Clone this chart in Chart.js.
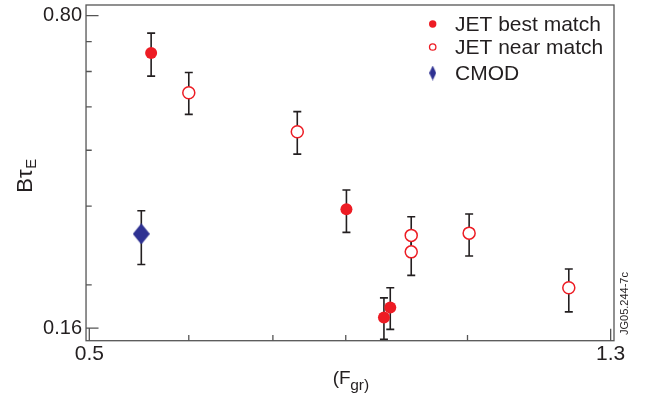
<!DOCTYPE html>
<html>
<head>
<meta charset="utf-8">
<script src="https://cdn.jsdelivr.net/npm/chart.js@4"></script>
<style>
html, body { margin: 0; padding: 0; background: #fff; }
#wrap { width: 649px; height: 403px; }
</style>
</head>
<body>
<div id="wrap"><canvas id="chart" width="649" height="403"></canvas></div>
<script>
// values (x = Fgr, y = B.tauE, both log axes)
var seriesNames = ['JET best match', 'JET near match', 'CMOD']

var bestX = [0.560, 0.801, 0.858, 0.868]
var bestY = [0.660, 0.295, 0.169, 0.178]
var bestLo = [0.586, 0.262, 0.151, 0.159]
var bestHi = [0.731, 0.326, 0.187, 0.197]

var nearX = [0.600, 0.732, 0.902, 0.902, 1.003, 1.204]
var nearY = [0.538, 0.440, 0.258, 0.237, 0.261, 0.197]
var nearLo = [0.481, 0.392, 0.236, 0.210, 0.232, 0.174]
var nearHi = [0.597, 0.488, 0.284, 0.259, 0.288, 0.217]

var cmodX = [0.550]
var cmodY = [0.260]
var cmodLo = [0.222]
var cmodHi = [0.293]

var xTicks = [0.5, 0.6, 0.7, 0.8, 1.0, 1.3]
var xLabels = [0.5, 1.3]
var yTicks = [0.16, 0.2, 0.3, 0.4, 0.5, 0.6, 0.7, 0.8]
var yLabels = [0.16, 0.8]

var RED = '#ed1c24'
var NAVY = '#2e3192'
var INK = '#231f20'
var FONT = '"Liberation Sans", Arial, Helvetica, sans-serif'

function toPoints(xs, ys, lo, hi) {
    var pts = []
    for (let i = 0; i < xs.length; i++) {
        pts.push({ x: xs[i], y: ys[i], lo: lo[i], hi: hi[i] })
    }
    return pts
}

function diamond(w, h, color) {
    var c = document.createElement('canvas')
    c.width = w
    c.height = h
    var g = c.getContext('2d')
    g.fillStyle = color
    g.beginPath()
    g.moveTo(w / 2, 0)
    g.lineTo(w, h / 2)
    g.lineTo(w / 2, h)
    g.lineTo(0, h / 2)
    g.closePath()
    g.fill()
    return c
}

// error bars, frame, inward ticks, titles, legend
var decorations = {
    id: 'decorations',
    beforeDatasetsDraw(chart) {
        var ctx = chart.ctx, xs = chart.scales.x, ys = chart.scales.y
        ctx.save()
        ctx.strokeStyle = INK
        ctx.lineWidth = 1.6
        for (const ds of chart.data.datasets) {
            for (const p of ds.data) {
                var px = xs.getPixelForValue(p.x)
                var top = ys.getPixelForValue(p.hi)
                var bot = ys.getPixelForValue(p.lo)
                ctx.beginPath()
                ctx.moveTo(px, top); ctx.lineTo(px, bot)
                ctx.moveTo(px - 4, top); ctx.lineTo(px + 4, top)
                ctx.moveTo(px - 4, bot); ctx.lineTo(px + 4, bot)
                ctx.stroke()
            }
        }
        ctx.restore()
    },
    afterDraw(chart) {
        var ctx = chart.ctx, a = chart.chartArea
        var xs = chart.scales.x, ys = chart.scales.y
        ctx.save()
        // frame
        ctx.strokeStyle = '#555'
        ctx.lineWidth = 1.3
        ctx.strokeRect(a.left, a.top, a.right - a.left, a.bottom - a.top)
        // ticks pointing inward
        ctx.beginPath()
        for (const v of yTicks) {
            var py = ys.getPixelForValue(v)
            var len = yLabels.includes(v) ? 12.5 : 5.7
            ctx.moveTo(a.left, py); ctx.lineTo(a.left + len, py)
        }
        for (const v of xTicks) {
            var px = xs.getPixelForValue(v)
            var len2 = xLabels.includes(v) ? 12 : 5.7
            ctx.moveTo(px, a.bottom); ctx.lineTo(px, a.bottom - len2)
        }
        ctx.stroke()

        ctx.fillStyle = INK
        ctx.textAlign = 'left'
        ctx.textBaseline = 'alphabetic'

        // y title: B tau_E
        ctx.save()
        ctx.translate(31.7, 192.7)
        ctx.rotate(-Math.PI / 2)
        ctx.font = '22px ' + FONT
        ctx.fillText('Bτ', 0, 0)
        var w = ctx.measureText('Bτ').width
        ctx.font = '15px ' + FONT
        ctx.fillText('E', w + 0.5, 4.5)
        ctx.restore()

        // x title: (F_gr)
        ctx.font = '19px ' + FONT
        ctx.fillText('(F', 332.7, 384.4)
        var w2 = ctx.measureText('(F').width
        ctx.font = '15.5px ' + FONT
        ctx.fillText('gr)', 332.7 + w2 - 0.5, 390)

        // legend inside plot, top right
        var rows = [24, 47, 73]
        var mx = a.right - 181.3, tx = a.right - 159
        ctx.font = '21px ' + FONT
        ctx.textBaseline = 'middle'
        for (let i = 0; i < seriesNames.length; i++) {
            var ry = rows[i]
            if (i === 0) {
                ctx.fillStyle = RED
                ctx.beginPath(); ctx.arc(mx, ry, 3.7, 0, Math.PI * 2); ctx.fill()
            } else if (i === 1) {
                ctx.strokeStyle = RED
                ctx.lineWidth = 1.3
                ctx.beginPath(); ctx.arc(mx, ry, 3.2, 0, Math.PI * 2); ctx.stroke()
            } else {
                ctx.drawImage(diamond(7, 15, NAVY), mx - 3.5, ry - 7.5)
            }
            ctx.fillStyle = INK
            ctx.fillText(seriesNames[i], tx, ry + 1)
        }

        // figure stamp
        ctx.save()
        ctx.translate(628, 335)
        ctx.rotate(-Math.PI / 2)
        ctx.font = '11px ' + FONT
        ctx.textBaseline = 'alphabetic'
        ctx.fillText('JG05.244-7c', 0, 0)
        ctx.restore()

        ctx.restore()
    }
}

function initChart() {
    var ctx = document.getElementById('chart').getContext('2d')
    new Chart(ctx, {
        type: 'scatter',
        data: {
            datasets: [
                {
                    label: seriesNames[0],
                    data: toPoints(bestX, bestY, bestLo, bestHi),
                    pointStyle: 'circle',
                    pointRadius: 6,
                    pointBackgroundColor: RED,
                    pointBorderWidth: 0
                },
                {
                    label: seriesNames[1],
                    data: toPoints(nearX, nearY, nearLo, nearHi),
                    pointStyle: 'circle',
                    pointRadius: 6,
                    pointBackgroundColor: '#fff',
                    pointBorderColor: RED,
                    pointBorderWidth: 1.5
                },
                {
                    label: seriesNames[2],
                    data: toPoints(cmodX, cmodY, cmodLo, cmodHi),
                    pointStyle: diamond(17, 21, NAVY),
                    pointRadius: 9
                }
            ]
        },
        options: {
            responsive: false,
            animation: false,
            layout: { autoPadding: false, padding: { left: 39.1, top: 5, right: 35, bottom: 35.1 } },
            plugins: {
                legend: { display: false },
                tooltip: { enabled: false }
            },
            scales: {
                x: {
                    type: 'logarithmic',
                    min: 0.497,
                    max: 1.308,
                    bounds: 'data',
                    grid: { display: false, drawTicks: false },
                    border: { display: false },
                    afterBuildTicks: function (axis) {
                        axis.ticks = xLabels.map(v => ({ value: v }))
                    },
                    ticks: {
                        autoSkip: false,
                        maxRotation: 0,
                        padding: 1,
                        color: INK,
                        font: { family: FONT, size: 21, lineHeight: 1.2 },
                        callback: v => Number(v).toFixed(1)
                    }
                },
                y: {
                    type: 'logarithmic',
                    min: 0.150,
                    max: 0.845,
                    bounds: 'data',
                    grid: { display: false, drawTicks: false },
                    border: { display: false },
                    afterBuildTicks: function (axis) {
                        axis.ticks = yLabels.map(v => ({ value: v }))
                    },
                    afterFit: function (axis) {
                        // labels sit inside the range, no extra room needed
                        axis.paddingTop = 0
                        axis.paddingBottom = 0
                    },
                    ticks: {
                        autoSkip: false,
                        padding: 4,
                        color: INK,
                        font: { family: FONT, size: 20 },
                        callback: v => Number(v).toFixed(2)
                    }
                }
            }
        },
        plugins: [decorations]
    })
}

document.addEventListener('DOMContentLoaded', initChart)
</script>
</body>
</html>
